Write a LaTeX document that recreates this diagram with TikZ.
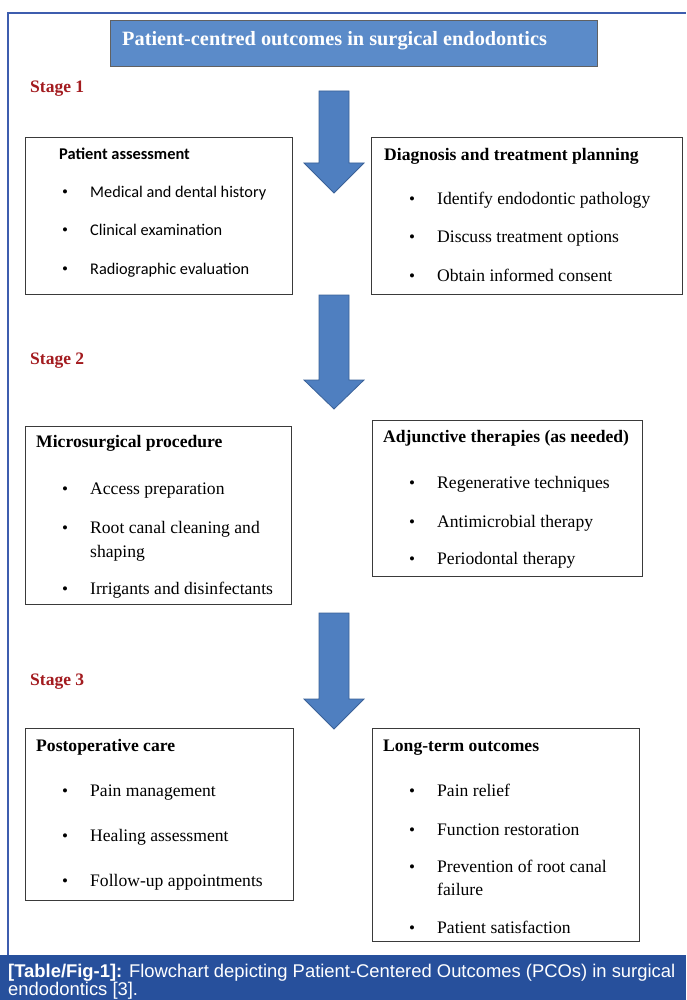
\documentclass[tikz,border=0pt]{standalone}
\usepackage{fontspec}
\setmainfont{Liberation Serif}
\newfontfamily\calib{Carlito}
\newfontfamily\capfont{Liberation Sans}
\definecolor{framebl}{HTML}{3D5DAE}
\definecolor{titlefill}{HTML}{5B8BC9}
\definecolor{arrowfill}{HTML}{4F7FC0}
\definecolor{arrowdraw}{HTML}{3A6198}
\definecolor{stagered}{HTML}{A31B1F}
\definecolor{capbg}{HTML}{27509C}
\definecolor{boxline}{HTML}{3A3A3A}
\tikzset{
  box/.style={draw=boxline, line width=0.8pt, fill=white, anchor=north west, inner sep=0pt},
  stagelbl/.style={anchor=base west, inner sep=0pt, text=stagered, font=\fontsize{17.5}{20}\selectfont\bfseries},
  hd/.style={anchor=base west, inner sep=0pt, font=\fontsize{17.6}{20}\selectfont\bfseries},
  itm/.style={anchor=base west, inner sep=0pt, font=\fontsize{17.6}{20}\selectfont, align=left},
  bul/.style={anchor=base west, inner sep=0pt, font=\fontsize{17}{20}\selectfont},
  hdc/.style={anchor=base west, inner sep=0pt, font=\calib\fontsize{16.4}{19}\selectfont\bfseries},
  itmc/.style={anchor=base west, inner sep=0pt, font=\calib\fontsize{16.3}{19}\selectfont},
  blk/.style={fill=arrowfill, draw=arrowdraw, line width=0.8pt, line join=miter},
}
\newcommand{\blockarrow}[4]{% center x, top, head base, tip
  \draw[blk] (#1-15,#2) -- (#1+15,#2) -- (#1+15,#3) -- (#1+30,#3) -- (#1,#4) -- (#1-30,#3) -- (#1-15,#3) -- cycle;}
\begin{document}
\begin{tikzpicture}[x=1pt,y=-1pt]
\useasboundingbox (0,0) rectangle (686,1000);
\fill[white] (0,0) rectangle (686,1000);
% frame
\draw[framebl, line width=1.2pt] (8,955) -- (8,13) -- (686,13);
% title
\node[box, draw=boxline!80, fill=titlefill, minimum width=487pt, minimum height=46pt] (title) at (110,20) {};
\node[anchor=west, inner sep=0pt, text=white, font=\fontsize{20.3}{24}\selectfont\bfseries] (titletxt) at (122,41) {Patient-centred outcomes in surgical endodontics};
% stages
\node[stagelbl] (s1) at (30,93) {Stage 1};
\node[stagelbl] (s2) at (30,364) {Stage 2};
\node[stagelbl] (s3) at (30,685) {Stage 3};
% arrows
\blockarrow{334}{91}{163}{193}
\blockarrow{334}{295}{380}{409}
\blockarrow{334}{613}{699}{729}
% box A
\node[box, minimum width=267pt, minimum height=157pt] (A) at (25,137) {};
\node[hdc] (Ah) at (59,160) {Patient assessment};
\foreach \y/\t [count=\i] in {198/Medical and dental history,236/Clinical examination,274/Radiographic evaluation}{
  \node[bul] (Ab\i) at (62,\y) {•};
  \node[itmc] (At\i) at (90,\y) {\t};
}
% box B
\node[box, minimum width=311pt, minimum height=157pt] (B) at (371,137) {};
\node[hd] (Bh) at (384,161) {Diagnosis and treatment planning};
\foreach \y/\t [count=\i] in {205/Identify endodontic pathology,243/Discuss treatment options,281/Obtain informed consent}{
  \node[bul] (Bb\i) at (409,\y) {•};
  \node[itm] (Bt\i) at (437,\y) {\t};
}
% box C
\node[box, minimum width=266pt, minimum height=178pt] (C) at (25,426) {};
\node[hd] (Ch) at (36,447) {Microsurgical procedure};
\node[bul] (Cb1) at (62,494) {•};
\node[itm] (Ct1) at (90,494) {Access preparation};
\node[bul] (Cb2) at (62,533) {•};
\node[itm] (Ct2) at (90,533) {Root canal cleaning and};
\node[itm] (Ct2b) at (90,557) {shaping};
\node[bul] (Cb3) at (62,594) {•};
\node[itm] (Ct3) at (90,594) {Irrigants and disinfectants};
% box D
\node[box, minimum width=270pt, minimum height=156pt] (D) at (372,420) {};
\node[hd] (Dh) at (383,442) {Adjunctive therapies (as needed)};
\foreach \y/\t [count=\i] in {488/Regenerative techniques,527/Antimicrobial therapy,564/Periodontal therapy}{
  \node[bul] (Db\i) at (409,\y) {•};
  \node[itm] (Dt\i) at (437,\y) {\t};
}
% box E
\node[box, minimum width=268pt, minimum height=172pt] (E) at (25,728) {};
\node[hd] (Eh) at (36,751) {Postoperative care};
\foreach \y/\t [count=\i] in {796/Pain management,841/Healing assessment,886/Follow-up appointments}{
  \node[bul] (Eb\i) at (62,\y) {•};
  \node[itm] (Et\i) at (90,\y) {\t};
}
% box F
\node[box, minimum width=267pt, minimum height=213pt] (F) at (372,728) {};
\node[hd] (Fh) at (383,751) {Long-term outcomes};
\node[bul] (Fb1) at (409,796) {•};
\node[itm] (Ft1) at (437,796) {Pain relief};
\node[bul] (Fb2) at (409,835) {•};
\node[itm] (Ft2) at (437,835) {Function restoration};
\node[bul] (Fb3) at (409,872) {•};
\node[itm] (Ft3) at (437,872) {Prevention of root canal};
\node[itm] (Ft3b) at (437,895) {failure};
\node[bul] (Fb4) at (409,933) {•};
\node[itm] (Ft4) at (437,933) {Patient satisfaction};
% caption
\fill[capbg] (0,955) rectangle (686,1000);
\node[anchor=base west, inner sep=0pt, text=white, font=\capfont\fontsize{18.4}{20}\selectfont] (cap1) at (8,977) {\textbf{[Table/Fig-1]:} Flowchart depicting Patient-Centered Outcomes (PCOs) in surgical};
\node[anchor=base west, inner sep=0pt, text=white, font=\capfont\fontsize{18.4}{20}\selectfont] (cap2) at (8,995.5) {endodontics [3].};
\end{tikzpicture}
\end{document}
